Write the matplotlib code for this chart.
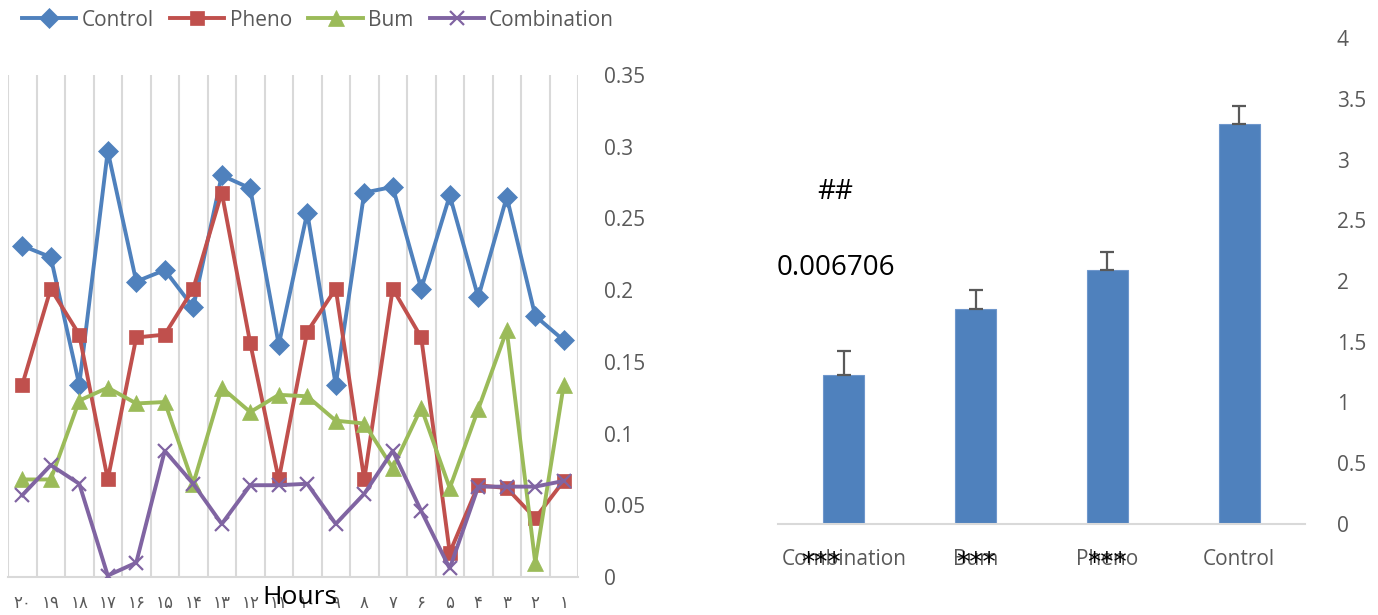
import matplotlib

matplotlib.use("Agg")
import matplotlib.pyplot as plt
import matplotlib.transforms as mtransforms
from matplotlib.lines import Line2D

# hourly readings, listed in the order they appear left to right (hour 20 -> hour 1)
hours = [20, 19, 18, 17, 16, 15, 14, 13, 12, 11, 10, 9, 8, 7, 6, 5, 4, 3, 2, 1]
control = [0.231, 0.223, 0.134, 0.297, 0.206, 0.214, 0.188, 0.280, 0.271, 0.162,
           0.254, 0.134, 0.268, 0.272, 0.201, 0.266, 0.195, 0.265, 0.182, 0.165]
pheno = [0.134, 0.201, 0.169, 0.068, 0.167, 0.169, 0.201, 0.268, 0.163, 0.068,
         0.171, 0.201, 0.068, 0.201, 0.167, 0.017, 0.064, 0.062, 0.041, 0.067]
bum = [0.068, 0.068, 0.123, 0.132, 0.121, 0.122, 0.065, 0.132, 0.115, 0.127,
       0.126, 0.109, 0.107, 0.076, 0.118, 0.062, 0.117, 0.172, 0.010, 0.134]
combination = [0.057, 0.078, 0.065, 0.001, 0.010, 0.088, 0.065, 0.037, 0.064, 0.064,
               0.065, 0.037, 0.058, 0.088, 0.046, 0.006, 0.063, 0.063, 0.063, 0.067]

# group means with upper error
groups = ["Combination", "Bum", "Pheno", "Control"]
means = [1.23, 1.77, 2.09, 3.29]
errs = [0.19, 0.16, 0.15, 0.15]
stars = ["***", "***", "***", ""]

BLUE, RED, GREEN, PURPLE = "#4F81BD", "#C0504D", "#9BBB59", "#8064A2"
GRAY = "#595959"
GRID = "#D9D9D9"

plt.rcParams["font.family"] = ["Open Sans", "DejaVu Sans"]

PERSIAN = str.maketrans("0123456789", "۰۱۲۳۴۵۶۷۸۹")

W, H = 1378, 615
fig = plt.figure(figsize=(W / 100, H / 100), dpi=100)


def box(x0, y_top, x1, y_bot):
    return [x0 / W, 1 - y_bot / H, (x1 - x0) / W, (y_bot - y_top) / H]


# ---- left: line chart ----
ax = fig.add_axes(box(8, 75, 578, 577))
xs = list(range(len(hours)))
series = [
    ("Control", control, BLUE, "D", 10),
    ("Pheno", pheno, RED, "s", 10),
    ("Bum", bum, GREEN, "^", 11),
    ("Combination", combination, PURPLE, "x", 10),
]
handles = []
for name, vals, col, mk, ms in series:
    mew = 1.6 if mk == "x" else 0.5
    ax.plot(xs, vals, color=col, linewidth=2.8, marker=mk, markersize=ms,
            markeredgewidth=mew, markeredgecolor=col, zorder=3)
    handles.append(Line2D([], [], color=col, linewidth=2.8, marker=mk, markersize=ms,
                          markeredgewidth=mew, markeredgecolor=col))

ax.set_xlim(-0.5, len(hours) - 0.5)
ax.set_ylim(0, 0.35)
ax.set_xticks(xs)
ax.set_xticklabels([str(h).translate(PERSIAN) for h in hours],
                   fontsize=12, color=GRAY, family="DejaVu Sans")
ax.set_xticks([i - 0.5 for i in range(len(hours) + 1)], minor=True)
ax.grid(True, which="minor", axis="x", color=GRID, linewidth=1.5)
ax.tick_params(axis="x", which="both", length=0, pad=12)
ax.yaxis.tick_right()
ax.set_yticks([0, 0.05, 0.1, 0.15, 0.2, 0.25, 0.3, 0.35])
ax.set_yticklabels(["0", "0.05", "0.1", "0.15", "0.2", "0.25", "0.3", "0.35"])
ax.tick_params(axis="y", length=0, pad=19, labelsize=15, labelcolor=GRAY)
for s in ("top", "left", "right"):
    ax.spines[s].set_visible(False)
ax.spines["bottom"].set_color(GRID)
ax.spines["bottom"].set_linewidth(1.5)

fig.text(300 / W, 1 - 597 / H, "Hours", fontsize=19, color="black",
         ha="center", va="center")

fig.legend(handles, [s[0] for s in series], loc="center left",
           bbox_to_anchor=(22 / W, 1 - 20 / H), ncol=4, frameon=False,
           fontsize=15, labelcolor=GRAY, handlelength=2.6, handletextpad=0.25,
           columnspacing=0.8, borderaxespad=0, borderpad=0)

# ---- right: bar chart ----
bx = fig.add_axes(box(778, 38, 1305, 524))
pos = list(range(len(groups)))
bx.bar(pos, means, width=0.31, color=BLUE, edgecolor="#6F97CC", linewidth=0.8,
       yerr=[[0] * len(errs), errs], capsize=5,
       error_kw=dict(ecolor=GRAY, elinewidth=1.6, capthick=1.6))
bx.set_xlim(-0.5, len(groups) - 0.5)
bx.set_ylim(0, 4)
bx.set_xticks(pos)
bx.set_xticklabels(groups)
bx.tick_params(axis="x", length=0, pad=18, labelsize=15, labelcolor=GRAY)
bx.yaxis.tick_right()
bx.set_yticks([0, 0.5, 1, 1.5, 2, 2.5, 3, 3.5, 4])
bx.set_yticklabels(["0", "0.5", "1", "1.5", "2", "2.5", "3", "3.5", "4"])
bx.tick_params(axis="y", length=0, pad=23, labelsize=15, labelcolor=GRAY)
for s in ("top", "left", "right"):
    bx.spines[s].set_visible(False)
bx.spines["bottom"].set_color(GRID)
bx.spines["bottom"].set_linewidth(1.5)

# significance marks, sitting over the category labels
star_tr = mtransforms.blended_transform_factory(bx.transData, bx.transAxes) + \
    mtransforms.ScaledTranslation(0, -40 / 100, fig.dpi_scale_trans)
star_shift = [-0.17, 0, 0, 0]
for p, st, sh in zip(pos, stars, star_shift):
    if st:
        bx.text(p + sh, 0, st, transform=star_tr, fontsize=19, color="black",
                ha="center", va="center", family="DejaVu Sans")

bx.text(-0.065, 2.73, "##", fontsize=20, color="black", ha="center", va="center")
bx.text(-0.06, 2.11, "0.006706", fontsize=20, color="black", ha="center", va="center")

fig.savefig("out.png", dpi=100)
